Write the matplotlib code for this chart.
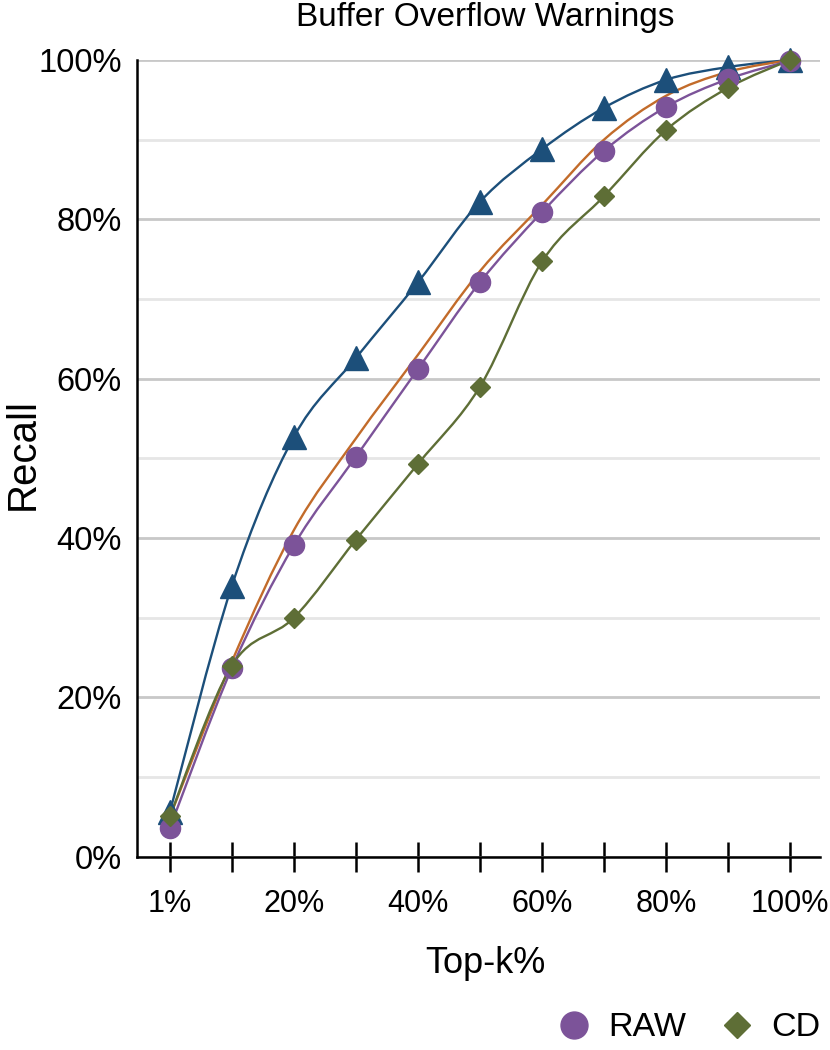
import numpy as np
import matplotlib
matplotlib.use("Agg")
import matplotlib.pyplot as plt
from matplotlib.path import Path
from matplotlib.patches import PathPatch
from matplotlib.lines import Line2D

plt.rcParams['font.family'] = ['Liberation Sans', 'DejaVu Sans']

# data
topk_labels = ['1%', '', '20%', '', '40%', '', '60%', '', '80%', '', '100%']
blue_vals = [5.6, 34.0, 52.7, 62.6, 72.1, 82.2, 88.8, 94.0, 97.5, 99.1, 100.0]
orange_vals = [5.0, 24.5, 41.0, 52.5, 63.0, 73.5, 81.8, 90.0, 95.5, 98.5, 100.0]
raw_vals = [3.6, 23.7, 39.1, 50.2, 61.2, 72.1, 80.9, 88.6, 94.1, 97.6, 99.9]
cd_vals = [5.1, 24.0, 30.0, 39.8, 49.3, 59.0, 74.7, 82.9, 91.2, 96.5, 100.0]

c_blue = '#1c4f7a'
c_orange = '#c26b2a'
c_purple = '#7c5399'
c_green = '#5e6e36'


def smooth_path(x, y):
    """bezier path through the points, like excel's smoothed lines"""
    p = np.column_stack([x, y]).astype(float)
    n = len(p)
    verts = [p[0]]
    codes = [Path.MOVETO]
    for i in range(n - 1):
        p0 = p[i - 1] if i > 0 else p[i]
        p3 = p[i + 2] if i + 2 < n else p[i + 1]
        c1 = p[i] + (p[i + 1] - p0) / 6
        c2 = p[i + 1] - (p3 - p[i]) / 6
        verts += [c1, c2, p[i + 1]]
        codes += [Path.CURVE4] * 3
    return Path(verts, codes)


fig = plt.figure(figsize=(8.3, 10.5), dpi=100)
ax = fig.add_axes([0.165, 0.184, 0.823, 0.759])

x = np.arange(len(topk_labels))
series = [
    (blue_vals, c_blue, '^', 17, None),
    (orange_vals, c_orange, None, 0, None),
    (raw_vals, c_purple, 'o', 14.5, 'RAW'),
    (cd_vals, c_green, 'D', 10.2, 'CD'),
]
for vals, col, mk, ms, lab in series:
    ax.add_patch(PathPatch(smooth_path(x, vals), fill=False, edgecolor=col,
                           lw=1.7, zorder=3, clip_on=False))
    if mk:
        ax.plot(x, vals, linestyle='none', marker=mk, ms=ms, color=col,
                zorder=4, clip_on=False)

ax.set_xlim(-0.53, 10.48)
ax.set_ylim(0, 100)
ax.set_yticks(np.arange(0, 101, 20))
ax.set_yticks(np.arange(10, 100, 20), minor=True)
ax.set_yticklabels([f'{v}%' for v in range(0, 101, 20)])
ax.set_xticks(x)
ax.set_xticklabels(topk_labels)

ax.grid(axis='y', which='major', color='#c8c8c8', lw=2)
ax.grid(axis='y', which='minor', color='#e6e6e6', lw=2)
ax.set_axisbelow(True)

ax.tick_params(axis='y', which='both', length=0, labelsize=23.5, pad=11)
ax.tick_params(axis='x', direction='inout', length=21, width=1.8,
               labelsize=22, pad=13)
for s in ['top', 'right']:
    ax.spines[s].set_visible(False)
for s in ['left', 'bottom']:
    ax.spines[s].set_linewidth(1.8)
    ax.spines[s].set_zorder(5)

ax.set_xlabel('Top-k%', fontsize=26)
ax.xaxis.set_label_coords(0.51, -0.112)
fig.text(23 / 830, 1 - 454 / 1050, 'Recall', fontsize=29, rotation=90,
         ha='center', va='center')
fig.text(485 / 830, 1 - 26 / 1050, 'Buffer Overflow Warnings', fontsize=24,
         ha='center', va='baseline')

handles = [
    Line2D([], [], linestyle='none', marker='o', ms=19.4, color=c_purple),
    Line2D([], [], linestyle='none', marker='D', ms=13.5, color=c_green),
]
fig.legend(handles, ['RAW', 'CD'], loc='center right',
           bbox_to_anchor=(820 / 830, 1 - 1028 / 1050), borderaxespad=0,
           borderpad=0, ncol=2, frameon=False, fontsize=24.5,
           handletextpad=0.6, columnspacing=1.1, handlelength=0.8)

fig.savefig('out.png', dpi=100)
